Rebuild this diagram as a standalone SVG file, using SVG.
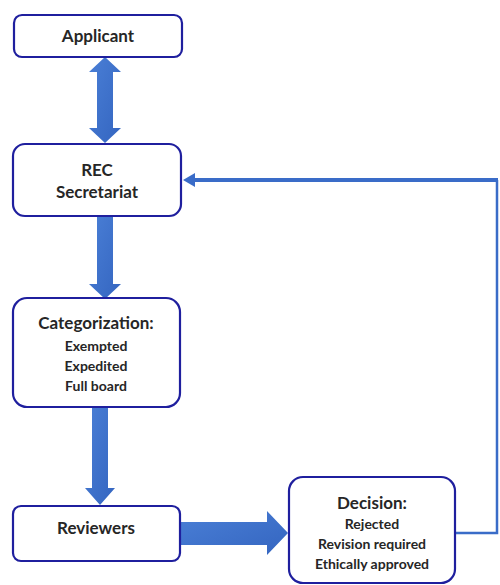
<svg xmlns="http://www.w3.org/2000/svg" width="500" height="585" viewBox="0 0 500 585">
<defs>
<linearGradient id="g" x1="0" y1="0" x2="1" y2="1">
<stop offset="0" stop-color="#4a7fd6"/>
<stop offset="1" stop-color="#3465c0"/>
</linearGradient>
<style>
.box{fill:#fff;stroke:#1f1f9e;stroke-width:2.2}
.t{font-family:Lato,"Liberation Sans",sans-serif;font-weight:bold;fill:#262626;text-anchor:middle}
.h{font-size:17px}
.s{font-size:14px}
.arr{fill:url(#g)}
.ln{fill:none;stroke:#3a6cc8}
</style>
</defs>
<g id="connectors">
<polygon class="arr" points="105,57 121,72 113,72 113,128 121,128 105,143 89,128 97,128 97,72 89,72"/>
<polygon class="arr" points="97,217 113,217 113,284 121,284 105,299 89,284 97,284"/>
<polygon class="arr" points="92,408 108,408 108,488 115,488 100,505 85,488 92,488"/>
<polygon class="arr" points="181,522 267,522 267,511 288,533 267,555 267,545 181,545"/>
<path class="ln" d="M456,533 H497 V180" stroke-width="2.5"/>
<path class="ln" d="M498,180 H192" stroke-width="4"/>
<polygon fill="#3a6cc8" points="183,180 195,173 195,187"/>
</g>
<g id="applicant">
<rect class="box" x="14" y="15" width="168" height="42" rx="8"/>
<text class="t h" x="98" y="42">Applicant</text>
</g>
<g id="rec">
<rect class="box" x="13" y="144" width="168" height="72" rx="12"/>
<text class="t h" x="97" y="176">REC</text>
<text class="t h" x="97" y="198">Secretariat</text>
</g>
<g id="categorization">
<rect class="box" x="13" y="298" width="167" height="109" rx="14"/>
<text class="t h" x="96" y="329">Categorization:</text>
<text class="t s" x="96" y="351">Exempted</text>
<text class="t s" x="96" y="371">Expedited</text>
<text class="t s" x="96" y="391">Full board</text>
</g>
<g id="reviewers">
<rect class="box" x="13" y="506" width="167" height="55" rx="8"/>
<text class="t h" x="96" y="534">Reviewers</text>
</g>
<g id="decision">
<rect class="box" x="289" y="477" width="166" height="106" rx="14"/>
<text class="t h" x="372" y="509">Decision:</text>
<text class="t s" x="372" y="529">Rejected</text>
<text class="t s" x="372" y="549">Revision required</text>
<text class="t s" x="372" y="569">Ethically approved</text>
</g>
</svg>
